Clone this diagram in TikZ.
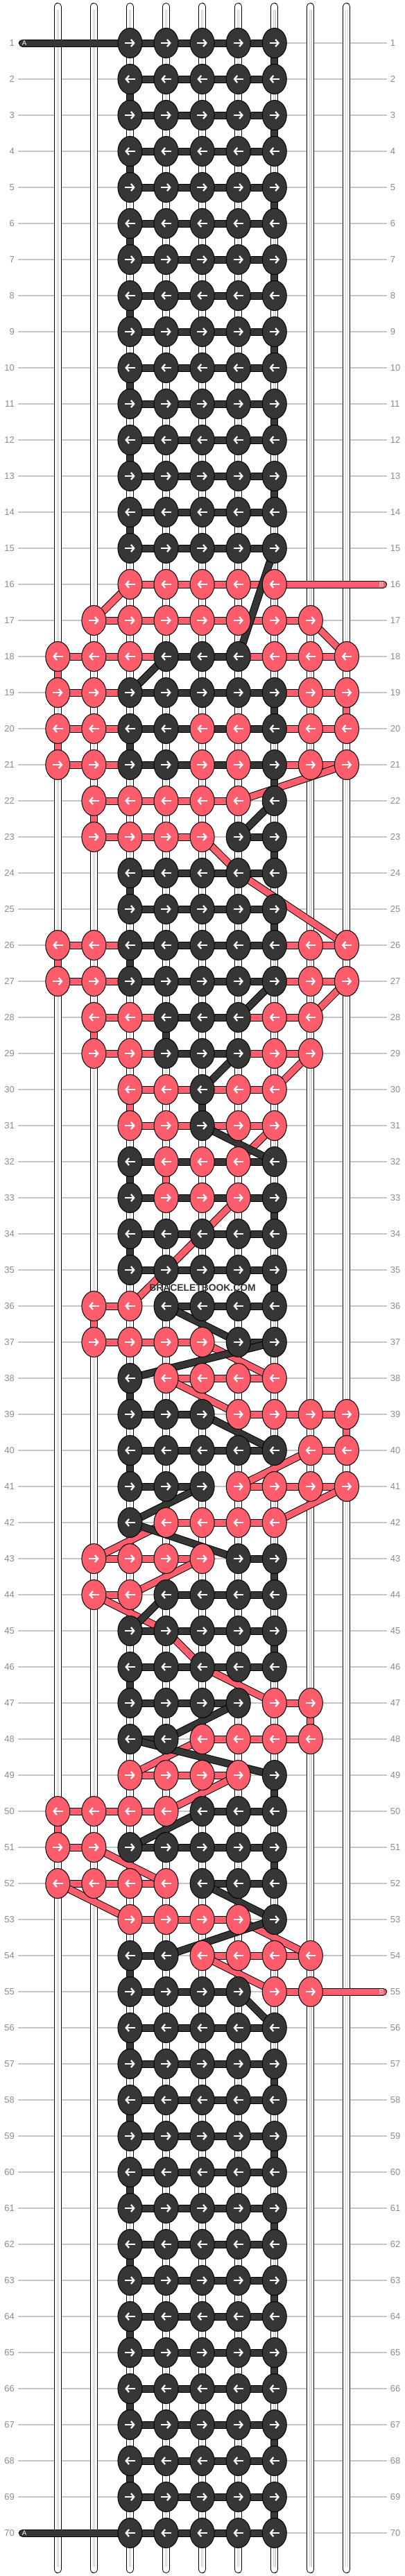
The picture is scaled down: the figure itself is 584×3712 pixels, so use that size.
\documentclass[tikz,border=0pt]{standalone}
\usepackage{fontspec}
\setmainfont{Liberation Sans}
\usetikzlibrary{shapes.geometric,arrows.meta}
\definecolor{P}{HTML}{FF5C6C}
\definecolor{D}{HTML}{363636}
\definecolor{gridgrey}{HTML}{C6C6C6}
\definecolor{lblgrey}{HTML}{8C8C8C}
\definecolor{tubegrey}{HTML}{CFCFCF}
\pgfdeclarelayer{paper}
\pgfdeclarelayer{grid}
\pgfdeclarelayer{tubes}
\pgfdeclarelayer{pinklay}
\pgfdeclarelayer{darklay}
\pgfsetlayers{paper,grid,tubes,pinklay,darklay,main}
\tikzset{
 knot/.style={ellipse, draw=black, line width=0.75pt, minimum width=26.25pt, minimum height=32.25pt, inner sep=0pt, outer sep=0pt},
 arw/.style={white, line width=1.7pt, -{Straight Barb[length=3.2pt,width=7.6pt]}},
 strandbase/.style={draw=black, line width=0.75pt, double distance=6.75pt, line cap=round, line join=round},
 pk/.style={strandbase, double=P},
 dk/.style={strandbase, double=D},
 tubeout/.style={draw=black, line width=8.25pt, line cap=round},
 tubein/.style={draw=white, line width=6.75pt, line cap=round},
 tubemid/.style={draw=tubegrey, line width=2.6pt},
 tubecore/.style={draw=white, line width=0.9pt},
 gridline/.style={draw=gridgrey, line width=0.9pt},
 lbl/.style={text=lblgrey, font=\fontsize{9.75}{11}\selectfont, inner sep=0pt},
 leadlbl/.style={text=white, font=\fontsize{7.3}{8}\selectfont, inner sep=0pt},
 wm/.style={text=D, font=\bfseries\fontsize{10.4}{12}\selectfont, inner sep=0pt},
}
\newcommand\kn[3]{%
 \pgfmathsetmacro\kX{83.3+52.08*#2}%
 \pgfmathsetmacro\kY{62+52*(#1-1)}%
 \node[knot,fill=#3] (k-#1-#2) at (\kX,\kY) {};%
 \ifodd#1\relax
  \draw[arw] ([xshift=-5.4pt]k-#1-#2.center) -- ([xshift=5.4pt]k-#1-#2.center);%
 \else
  \draw[arw] ([xshift=5.4pt]k-#1-#2.center) -- ([xshift=-5.4pt]k-#1-#2.center);%
 \fi}
\newcommand\knrow[2]{\foreach \cc/\kk in {#2}{\kn{#1}{\cc}{\kk}}}
\begin{document}
\begin{tikzpicture}[x=0.75pt,y=-0.75pt]
\begin{pgfonlayer}{paper}
\fill[white] (0,0) rectangle (584,3712);
\end{pgfonlayer}
\useasboundingbox (0,0) rectangle (584,3712);
% grid lines and row labels
\foreach \rr in {1,...,70}{
 \pgfmathsetmacro\yy{62+52*(\rr-1)}
 \node[lbl,anchor=east] (ll-\rr) at (21,\yy) {\rr};
 \node[lbl,anchor=west] (lr-\rr) at (562.5,\yy) {\rr};
 \begin{pgfonlayer}{grid}
 \draw[gridline] (26,\yy) -- (558,\yy);
 \end{pgfonlayer}
}
% tubes
\begin{pgfonlayer}{tubes}
\foreach \cc in {0,...,8}{
 \pgfmathsetmacro\xx{83.3+52.08*\cc}
 \coordinate (tt-\cc) at (\xx,9.5);
 \coordinate (tb-\cc) at (\xx,3702.5);
 \draw[tubeout] (tt-\cc) -- (tb-\cc);
 \draw[tubein] (tt-\cc) -- (tb-\cc);
 \draw[tubemid] ([yshift=-3pt]tt-\cc) -- ([yshift=3pt]tb-\cc);
 \draw[tubecore] ([yshift=-3pt]tt-\cc) -- ([yshift=3pt]tb-\cc);
}
\end{pgfonlayer}
% knots
\foreach \rr in {1,...,15}{\knrow{\rr}{2/D,3/D,4/D,5/D,6/D}}
\foreach \rr in {56,...,70}{\knrow{\rr}{2/D,3/D,4/D,5/D,6/D}}
\knrow{16}{2/P,3/P,4/P,5/P,6/P}
\knrow{17}{1/P,2/P,3/P,4/P,5/P,6/P,7/P}
\knrow{18}{0/P,1/P,2/P,3/D,4/D,5/D,6/P,7/P,8/P}
\knrow{19}{0/P,1/P,2/D,3/D,4/D,5/D,6/D,7/P,8/P}
\knrow{20}{0/P,1/P,2/D,3/D,4/P,5/P,6/D,7/P,8/P}
\knrow{21}{0/P,1/P,2/D,3/D,4/P,5/P,6/D,7/P,8/P}
\knrow{22}{1/P,2/P,3/P,4/P,5/P,6/D}
\knrow{23}{1/P,2/P,3/P,4/P,5/D,6/D}
\knrow{24}{2/D,3/D,4/D,5/D,6/D}
\knrow{25}{2/D,3/D,4/D,5/D,6/D}
\knrow{26}{0/P,1/P,2/D,3/D,4/D,5/D,6/D,7/P,8/P}
\knrow{27}{0/P,1/P,2/D,3/D,4/D,5/D,6/D,7/P,8/P}
\knrow{28}{1/P,2/P,3/D,4/D,5/D,6/P,7/P}
\knrow{29}{1/P,2/P,3/D,4/D,5/D,6/P,7/P}
\knrow{30}{2/P,3/P,4/D,5/P,6/P}
\knrow{31}{2/P,3/P,4/D,5/P,6/P}
\knrow{32}{2/D,3/P,4/P,5/P,6/D}
\knrow{33}{2/D,3/P,4/P,5/P,6/D}
\knrow{34}{2/D,3/D,4/D,5/D,6/D}
\knrow{35}{2/D,3/D,4/D,5/D,6/D}
\knrow{36}{1/P,2/P,3/D,4/D,5/D,6/D}
\knrow{37}{1/P,2/P,3/P,4/P,5/D,6/D}
\knrow{38}{2/D,3/P,4/P,5/P,6/P}
\knrow{39}{2/D,3/D,4/D,5/P,6/P,7/P,8/P}
\knrow{40}{2/D,3/D,4/D,5/D,6/D,7/P,8/P}
\knrow{41}{2/D,3/D,4/D,5/P,6/P,7/P,8/P}
\knrow{42}{2/D,3/P,4/P,5/P,6/P}
\knrow{43}{1/P,2/P,3/P,4/P,5/D,6/D}
\knrow{44}{1/P,2/P,3/D,4/D,5/D,6/D}
\knrow{45}{2/D,3/D,4/D,5/D,6/D}
\knrow{46}{2/D,3/D,4/D,5/D,6/D}
\knrow{47}{2/D,3/D,4/D,5/D,6/P,7/P}
\knrow{48}{2/D,3/D,4/P,5/P,6/P,7/P}
\knrow{49}{2/P,3/P,4/P,5/P,6/D}
\knrow{50}{0/P,1/P,2/P,3/P,4/D,5/D,6/D}
\knrow{51}{0/P,1/P,2/D,3/D,4/D,5/D,6/D}
\knrow{52}{0/P,1/P,2/P,3/P,4/D,5/D,6/D}
\knrow{53}{2/P,3/P,4/P,5/P,6/D}
\knrow{54}{2/D,3/D,4/P,5/P,6/P,7/P}
\knrow{55}{2/D,3/D,4/D,5/D,6/P,7/P}
% lead ends
\coordinate (A1) at (32.5,62);
\coordinate (A70) at (32.5,3650);
\coordinate (B16) at (552.5,842);
\coordinate (B55) at (552.5,2870);
% pink strand
\begin{pgfonlayer}{pinklay}
\foreach \rr/\fa/\fb in {16/2/6,17/1/7,18/0/8,19/0/8,20/0/8,21/0/8,22/1/5,23/1/4,26/0/8,27/0/8,28/1/7,29/1/7,30/2/6,31/2/6,32/3/5,33/3/5,36/1/2,37/1/4,38/3/6,39/5/8,40/7/8,41/5/8,42/3/6,43/1/4,44/1/2,47/6/7,48/4/7,49/2/5,50/0/3,51/0/1,52/0/3,53/2/5,54/4/7,55/6/7}
 {\draw[pk] (k-\rr-\fa.center) -- (k-\rr-\fb.center);}
\foreach \rr/\cc in {18/0,19/8,20/0,22/1,26/0,28/1,30/2,32/3,36/1,39/8,47/7,50/0}
 {\pgfmathtruncatemacro\rn{\rr+1}\draw[pk] (k-\rr-\cc.center) -- (k-\rn-\cc.center);}
\draw[pk] (k-16-2.center) -- (k-17-1.center);
\draw[pk] (k-17-7.center) -- (k-18-8.center);
\draw[pk] (k-21-8.center) -- (k-22-5.center);
\draw[pk] (k-23-4.center) -- (k-24-5.center) -- (k-26-8.center);
\draw[pk] (k-27-8.center) -- (k-28-7.center);
\draw[pk] (k-29-7.center) -- (k-30-6.center);
\draw[pk] (k-31-6.center) -- (k-32-5.center);
\draw[pk] (k-33-5.center) -- (k-36-2.center);
\draw[pk] (k-37-4.center) -- (k-38-6.center);
\draw[pk] (k-38-3.center) -- (k-39-5.center);
\draw[pk] (k-40-7.center) -- (k-41-5.center);
\draw[pk] (k-41-8.center) -- (k-42-6.center);
\draw[pk] (k-42-3.center) -- (k-43-1.center);
\draw[pk] (k-43-4.center) -- (k-44-2.center);
\draw[pk] (k-44-1.center) -- (k-45-3.center) -- (k-46-4.center) -- (k-47-6.center);
\draw[pk] (k-48-4.center) -- (k-49-2.center);
\draw[pk] (k-49-5.center) -- (k-50-3.center);
\draw[pk] (k-51-1.center) -- (k-52-3.center);
\draw[pk] (k-52-0.center) -- (k-53-2.center);
\draw[pk] (k-53-5.center) -- (k-54-7.center);
\draw[pk] (k-54-4.center) -- (k-55-6.center);
\draw[pk] (B16) -- (k-16-6.center);
\draw[pk] (k-55-7.center) -- (B55);
\end{pgfonlayer}
% dark strand
\begin{pgfonlayer}{darklay}
\foreach \rr in {1,...,15,56,57,...,70}{\draw[dk] (k-\rr-2.center) -- (k-\rr-6.center);}
\foreach \rr/\fa/\fb in {18/3/5,19/2/6,20/2/6,21/2/6,23/5/6,24/2/6,25/2/6,26/2/6,27/2/6,28/3/5,29/3/5,32/2/6,33/2/6,34/2/6,35/2/6,36/3/6,37/5/6,39/2/4,40/2/6,41/2/4,43/5/6,44/3/6,45/2/6,46/2/6,47/2/5,48/2/3,50/4/6,51/2/6,52/4/6,54/2/3,55/2/5}
 {\draw[dk] (k-\rr-\fa.center) -- (k-\rr-\fb.center);}
\foreach \rr in {1,...,14,56,57,...,69}
 {\pgfmathtruncatemacro\rn{\rr+1}\pgfmathtruncatemacro\vc{ifthenelse(mod(\rr,2)==1,6,2)}%
  \draw[dk] (k-\rr-\vc.center) -- (k-\rn-\vc.center);}
\foreach \rr/\cc in {19/6,20/2,21/6,23/6,24/2,25/6,26/2,28/3,30/4,32/2,33/6,34/2,35/6,38/2,40/2,43/6,45/6,46/2,49/6,51/6,54/2}
 {\pgfmathtruncatemacro\rn{\rr+1}\draw[dk] (k-\rr-\cc.center) -- (k-\rn-\cc.center);}
\draw[dk] (k-15-6.center) -- (k-18-5.center);
\draw[dk] (k-18-3.center) -- (k-19-2.center);
\draw[dk] (k-22-6.center) -- (k-23-5.center);
\draw[dk] (k-27-6.center) -- (k-28-5.center);
\draw[dk] (k-29-5.center) -- (k-30-4.center);
\draw[dk] (k-31-4.center) -- (k-32-6.center);
\draw[dk] (k-36-3.center) -- (k-37-5.center);
\draw[dk] (k-37-6.center) -- (k-38-2.center);
\draw[dk] (k-39-4.center) -- (k-40-6.center);
\draw[dk] (k-41-4.center) -- (k-42-2.center) -- (k-43-5.center);
\draw[dk] (k-44-3.center) -- (k-45-2.center);
\draw[dk] (k-47-5.center) -- (k-48-3.center);
\draw[dk] (k-48-2.center) -- (k-49-6.center);
\draw[dk] (k-50-4.center) -- (k-51-2.center);
\draw[dk] (k-52-4.center) -- (k-53-6.center) -- (k-54-3.center);
\draw[dk] (k-55-5.center) -- (k-56-6.center);
\draw[dk] (A1) -- (k-1-2.center);
\draw[dk] (k-70-2.center) -- (A70);
\end{pgfonlayer}
% lead labels and watermark
\node[leadlbl] (la-1) at (35,62) {A};
\node[leadlbl] (la-70) at (35,3650) {A};
\node[leadlbl] (lb-16) at (550,842) {B};
\node[leadlbl] (lb-55) at (550,2870) {B};
\node[wm] (wm) at (292,1856) {BRACELETBOOK.COM};
\end{tikzpicture}
\end{document}
